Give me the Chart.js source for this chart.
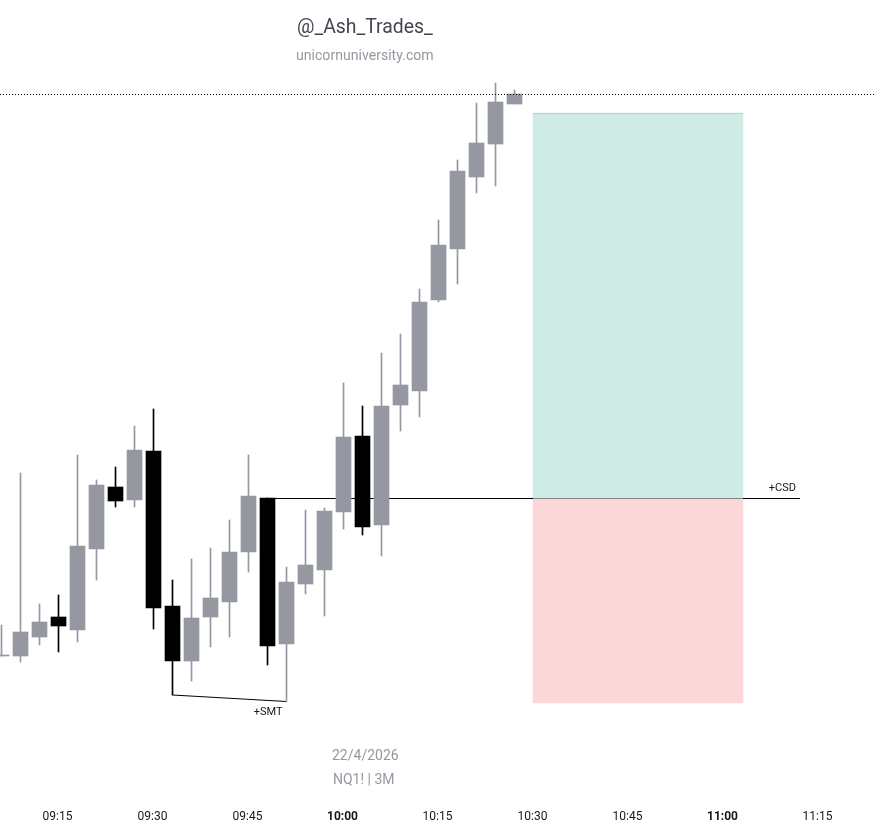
<!DOCTYPE html>
<html>
<head>
<meta charset="utf-8">
<title>NQ1! 3M</title>
<script src="https://cdn.jsdelivr.net/npm/chart.js@4/dist/chart.umd.min.js"></script>
<style>
  html, body { margin: 0; padding: 0; background: #fff; }
  canvas { display: block; }
</style>
</head>
<body>
<canvas id="candleChart" width="874" height="830"></canvas>
<script>
// Candle times, in minutes since midnight (09:06 to 10:27, every 3 minutes)
const times = [546, 549, 552, 555, 558, 561, 564, 567, 570, 573, 576, 579, 582, 585,
               588, 591, 594, 597, 600, 603, 606, 609, 612, 615, 618, 621, 624, 627];

// The picture has no price axis, so values are heights read off the picture
const opens  = [174, 174, 193, 213, 200, 281, 343, 330, 379, 224, 169, 213, 228, 278,
                332, 186, 246, 260, 318, 394, 305, 425, 439, 530, 581, 653, 686, 726];
const closes = [175, 198, 208, 204, 284, 345, 329, 380, 222, 169, 212, 232, 278, 334,
                184, 248, 265, 319, 393, 303, 424, 445, 528, 585, 659, 687, 728, 736];
const highs  = [205, 357, 226, 235, 375, 350, 363, 404, 421, 250, 271, 282, 310, 375,
                332, 263, 320, 322, 447, 424, 477, 496, 541, 610, 670, 727, 747, 740];
const lows   = [174, 168, 185, 178, 188, 250, 323, 323, 201, 135, 149, 183, 193, 258,
                165, 128, 236, 214, 301, 295, 274, 399, 413, 528, 546, 637, 644, 726];

// Horizontal levels
const csdLevel = 331.5;
const lastPriceLevel = 735.5;

// Long position box: target, entry and stop
const boxTime = 646.5;
const boxStart = 630;
const boxEnd = 663;
const targetZone = [332, 717];
const stopZone = [127, 331];
const targetEdge = 716.5;

// SMT link between the two lows
const smtTimes = [573, 591];
const smtLevels = [135, 128.5];

const xMin = 545.763;
const xMax = 683.763;
const csdEnd = 672.08;

const UP_COLOR = '#9598a1';
const DOWN_COLOR = '#000000';
const FONT = 'Roboto, sans-serif';

const candleColors = closes.map((close, i) => close >= opens[i] ? UP_COLOR : DOWN_COLOR);

function clockLabel(minutes) {
    const h = Math.floor(minutes / 60);
    const m = minutes % 60;
    return String(h).padStart(2, '0') + ':' + String(m).padStart(2, '0');
}

// Draws the watermark lines and the two small annotations
const labelsPlugin = {
    id: 'labelsPlugin',
    afterDraw(chart) {
        const ctx = chart.ctx;
        const x = chart.scales.x;
        const y = chart.scales.y;
        ctx.save();
        ctx.textBaseline = 'middle';
        ctx.textAlign = 'left';

        ctx.fillStyle = '#434651';
        ctx.font = '19.4px ' + FONT;
        ctx.fillText('@_Ash_Trades_', 297, 28);

        ctx.fillStyle = '#9598a1';
        ctx.font = '14.1px ' + FONT;
        ctx.fillText('unicornuniversity.com', 296, 56);
        ctx.font = '14px ' + FONT;
        ctx.fillText('22/4/2026', 332, 756);
        ctx.fillText('NQ1! | 3M', 333, 780);

        ctx.fillStyle = '#131722';
        ctx.font = '11px ' + FONT;
        ctx.textAlign = 'right';
        ctx.fillText('+CSD', x.getPixelForValue(csdEnd) - 4, y.getPixelForValue(csdLevel) - 10);
        ctx.fillText('+SMT', x.getPixelForValue(smtTimes[1]) - 4, y.getPixelForValue(smtLevels[1]) + 11);
        ctx.restore();
    }
};

new Chart(document.getElementById('candleChart'), {
    data: {
        datasets: [
            // Last price, dotted, on top of everything
            {
                type: 'line',
                order: 0,
                data: [{ x: xMin, y: lastPriceLevel }, { x: xMax, y: lastPriceLevel }],
                borderColor: '#000000',
                borderWidth: 1,
                borderDash: [1, 2],
                pointRadius: 0
            },
            // Candle bodies
            {
                type: 'bar',
                order: 1,
                grouped: false,
                barThickness: 15,
                data: times.map((t, i) => ({ x: t, y: [opens[i], closes[i]] })),
                backgroundColor: candleColors
            },
            // Candle wicks
            {
                type: 'bar',
                order: 2,
                grouped: false,
                barThickness: 1,
                data: times.map((t, i) => ({ x: t, y: [lows[i], highs[i]] })),
                backgroundColor: candleColors
            },
            // SMT link
            {
                type: 'line',
                order: 3,
                data: smtTimes.map((t, i) => ({ x: t, y: smtLevels[i] })),
                borderColor: '#000000',
                borderWidth: 1,
                pointRadius: 0
            },
            // Position box
            {
                type: 'bar',
                order: 4,
                grouped: false,
                barThickness: 210,
                data: [{ x: boxTime, y: targetZone }, { x: boxTime, y: stopZone }],
                backgroundColor: ['rgba(8,153,129,0.2)', 'rgba(242,54,69,0.2)']
            },
            // Slightly darker top edge of the target zone
            {
                type: 'line',
                order: 5,
                data: [{ x: boxStart, y: targetEdge }, { x: boxEnd, y: targetEdge }],
                borderColor: 'rgba(8,153,129,0.2)',
                borderWidth: 1,
                pointRadius: 0
            },
            // CSD level, lighter where it crosses the box
            {
                type: 'line',
                order: 5,
                data: [{ x: boxStart, y: csdLevel }, { x: boxEnd, y: csdLevel }],
                borderColor: '#7f8f90',
                borderWidth: 1,
                pointRadius: 0
            },
            {
                type: 'line',
                order: 5,
                data: [
                    { x: times[14], y: csdLevel }, { x: boxStart, y: csdLevel },
                    { x: boxStart, y: null },
                    { x: boxEnd, y: csdLevel }, { x: csdEnd, y: csdLevel }
                ],
                borderColor: '#000000',
                borderWidth: 1,
                pointRadius: 0
            }
        ]
    },
    options: {
        responsive: false,
        animation: false,
        layout: { padding: 0 },
        events: [],
        plugins: {
            legend: { display: false },
            title: { display: false },
            tooltip: { enabled: false }
        },
        scales: {
            x: {
                type: 'linear',
                offset: false,
                min: xMin,
                max: xMax,
                afterFit(scale) { scale.height = 30; },
                grid: { display: false, offset: false },
                border: { display: false },
                ticks: {
                    stepSize: 15,
                    includeBounds: false,
                    autoSkip: false,
                    maxRotation: 0,
                    padding: 2,
                    labelOffset: -1,
                    color: '#131722',
                    font: ctx => ({
                        family: FONT,
                        size: 12,
                        weight: ctx.tick && ctx.tick.value % 60 === 0 ? 'bold' : 'normal'
                    }),
                    callback: value => clockLabel(value)
                }
            },
            y: {
                display: false,
                min: 30,
                max: 830
            }
        }
    },
    plugins: [labelsPlugin]
});
</script>
</body>
</html>
